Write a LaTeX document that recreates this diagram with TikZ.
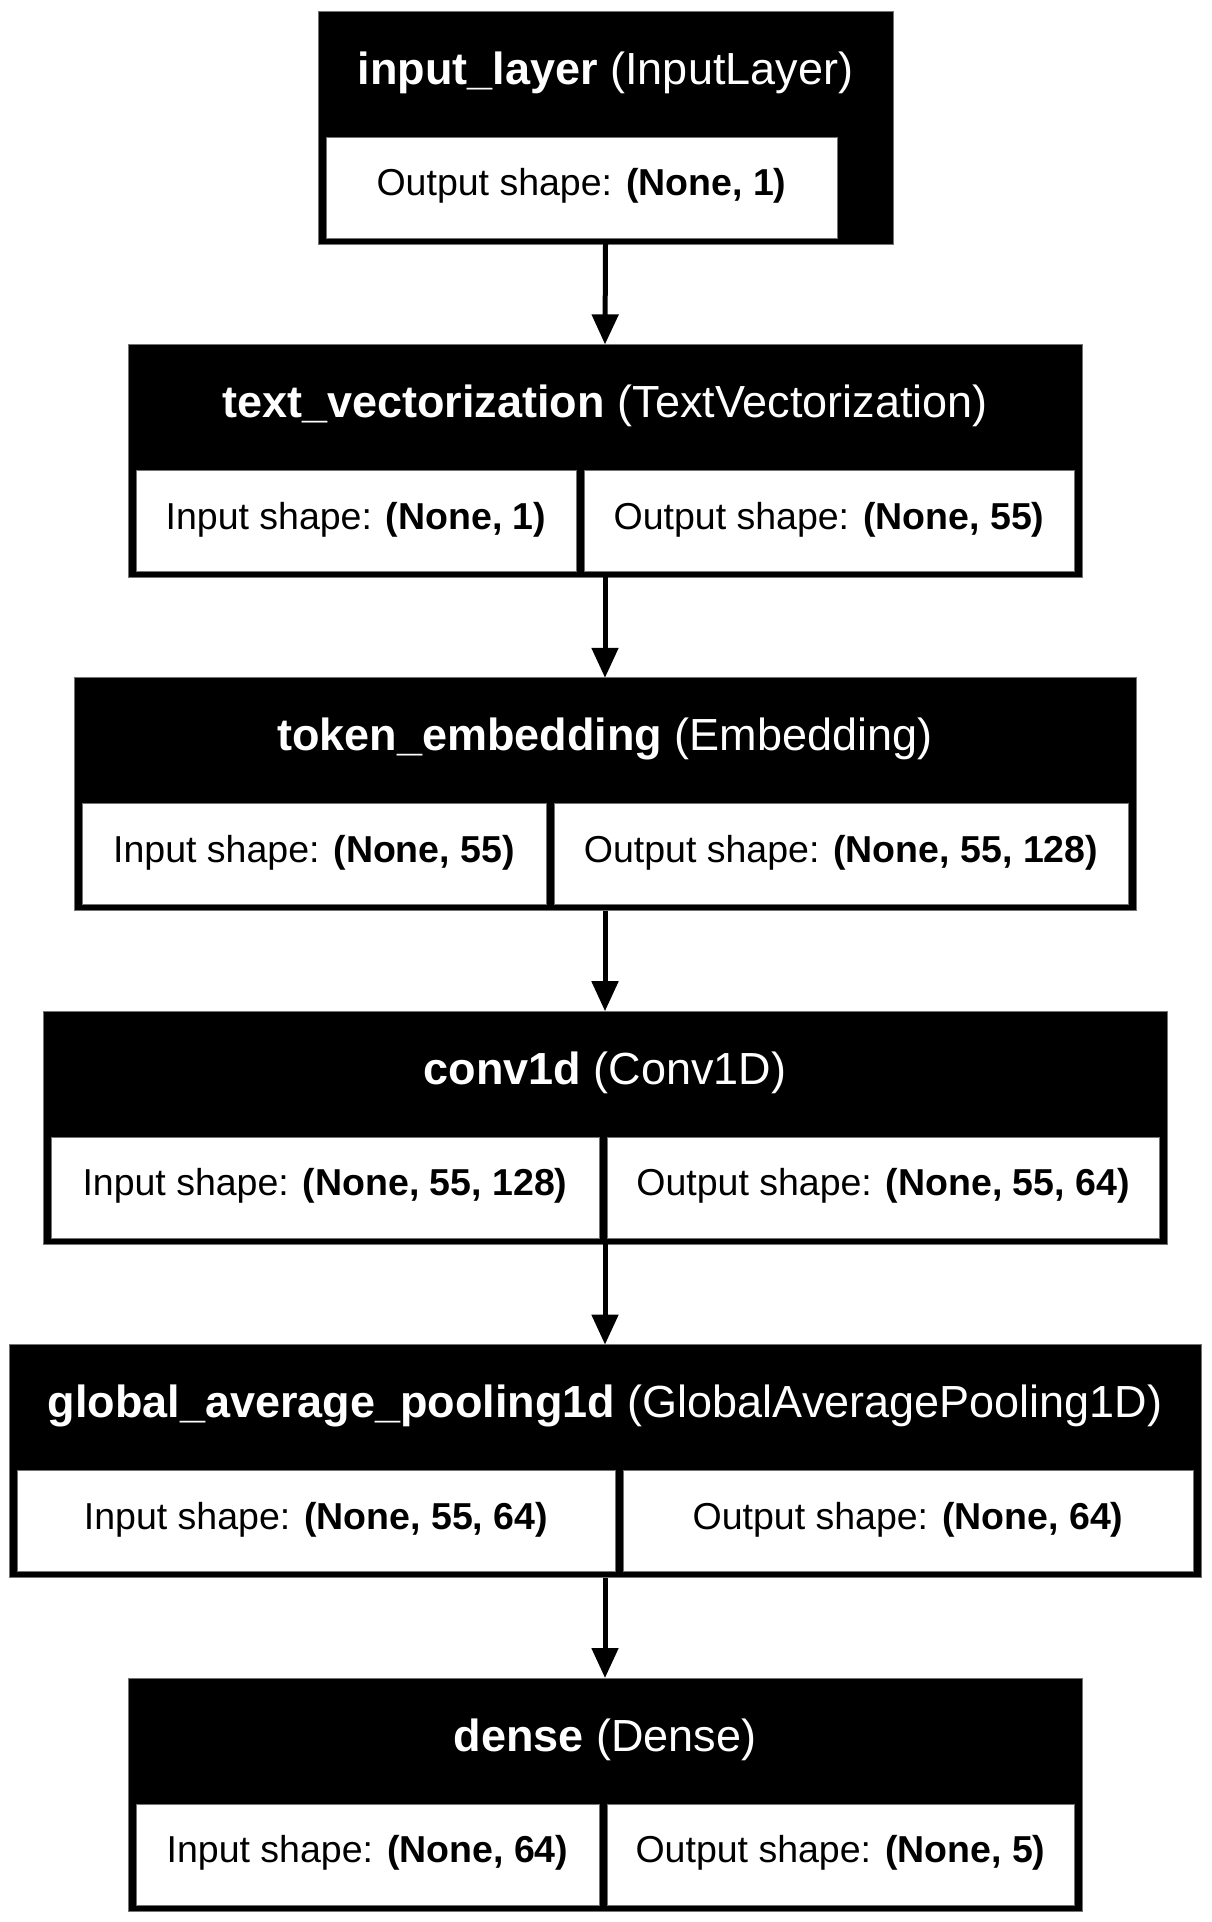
\documentclass[tikz,border=0pt]{standalone}
\usepackage{fontspec}
\setmainfont{Liberation Sans}
\usetikzlibrary{arrows.meta}
\tikzset{
  layerbox/.style={rectangle, fill=black, draw=black!55, line width=1pt, inner sep=0pt, outer sep=0pt},
  cellbox/.style={rectangle, fill=white, draw=black!55, line width=1pt, inner sep=0pt, outer sep=0pt},
  headtext/.style={text=white, inner sep=0pt, font=\fontsize{45}{54}\selectfont},
  bodytext/.style={text=black, inner sep=0pt, font=\fontsize{37.5}{45}\selectfont},
  conn/.style={line width=5pt, -{Triangle[width=26pt,length=30pt]}},
}
\newcommand\mkbox[5]{% name, x1, x2, top, header
  \pgfmathsetmacro\bw{#3-#2}\pgfmathsetmacro\bx{(#2+#3)/2}\pgfmathsetmacro\by{#4+116.5}\pgfmathsetmacro\hy{#4+61.5}
  \node[layerbox, minimum width=\bw pt, minimum height=233pt] (#1) at (\bx,\by) {};
  \node[headtext] (#1h) at (\bx,\hy) {#5};
}
\newcommand\mkcell[5]{% name, x1, x2, top, text
  \pgfmathsetmacro\cw{#3-#2}\pgfmathsetmacro\cx{(#2+#3)/2}\pgfmathsetmacro\cy{#4+176.5}\pgfmathsetmacro\ty{#4+175}
  \node[cellbox, minimum width=\cw pt, minimum height=101pt] (#1) at (\cx,\cy) {};
  \node[bodytext] (#1t) at (\cx,\ty) {#5};
}
\begin{document}
\begin{tikzpicture}[x=1pt,y=-1pt]
\useasboundingbox[fill=white] (0,0) rectangle (1211,1922);
% layer 1
\mkbox{L1}{318}{893}{11}{\textbf{input\_layer} (InputLayer)}
\mkcell{c1}{326}{837}{11}{Output shape: \textbf{(None, 1)}}
% layer 2
\mkbox{L2}{128}{1082}{344.4}{\textbf{text\_vectorization} (TextVectorization)}
\mkcell{c2a}{136}{576}{344.4}{Input shape: \textbf{(None, 1)}}
\mkcell{c2b}{584}{1074}{344.4}{Output shape: \textbf{(None, 55)}}
% layer 3
\mkbox{L3}{74}{1136}{677.8}{\textbf{token\_embedding} (Embedding)}
\mkcell{c3a}{82}{546}{677.8}{Input shape: \textbf{(None, 55)}}
\mkcell{c3b}{554}{1128}{677.8}{Output shape: \textbf{(None, 55, 128)}}
% layer 4
\mkbox{L4}{43}{1167}{1011.2}{\textbf{conv1d} (Conv1D)}
\mkcell{c4a}{51}{599}{1011.2}{Input shape: \textbf{(None, 55, 128)}}
\mkcell{c4b}{607}{1159}{1011.2}{Output shape: \textbf{(None, 55, 64)}}
% layer 5
\mkbox{L5}{9}{1201}{1344.6}{\textbf{global\_average\_pooling1d} (GlobalAveragePooling1D)}
\mkcell{c5a}{17}{615}{1344.6}{Input shape: \textbf{(None, 55, 64)}}
\mkcell{c5b}{623}{1193}{1344.6}{Output shape: \textbf{(None, 64)}}
% layer 6
\mkbox{L6}{128}{1082}{1678}{\textbf{dense} (Dense)}
\mkcell{c6a}{136}{599}{1678}{Input shape: \textbf{(None, 64)}}
\mkcell{c6b}{607}{1074}{1678}{Output shape: \textbf{(None, 5)}}
% connectors
\draw[conn] (L1.south) -- (L2.north);
\draw[conn] (L2.south) -- (L3.north);
\draw[conn] (L3.south) -- (L4.north);
\draw[conn] (L4.south) -- (L5.north);
\draw[conn] (L5.south) -- (L6.north);
\end{tikzpicture}
\end{document}
